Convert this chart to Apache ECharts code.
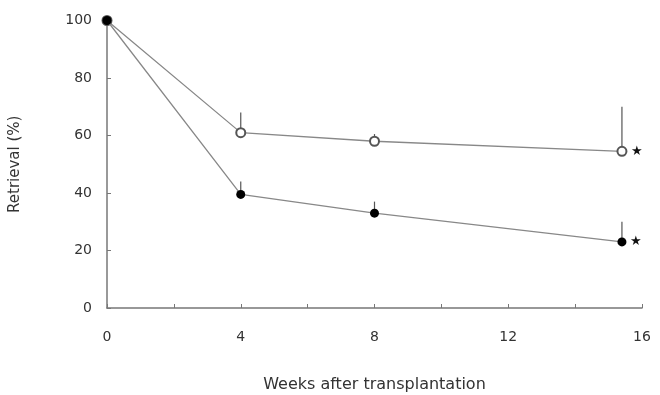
<!DOCTYPE html>
<html><head><meta charset="utf-8">
<script src="https://cdn.jsdelivr.net/npm/echarts@6/dist/echarts.min.js"></script>
<style>html,body{margin:0;padding:0;background:#fff}#c{width:660px;height:395px}</style>
</head><body><div id="c"></div>
<script>
var weeks = [0, 4, 8, 15.4];
var openValues = [100, 61, 58, 54.5];
var openErrors = [0, 7, 2.5, 15.5];
var filledValues = [100, 39.5, 33, 23];
var filledErrors = [0, 4.5, 4, 7];
var xTicks = [0, 4, 8, 12, 16];
var yTicks = [0, 20, 40, 60, 80, 100];

function pairs(vals){ return weeks.map(function(w,i){ return [w, vals[i]]; }); }
function errData(vals, errs){ return weeks.map(function(w,i){ return [w, vals[i], vals[i]+errs[i]]; }).filter(function(d,i){return errs[i]>0;}); }

var font = '"DejaVu Sans", "Liberation Sans", Arial, sans-serif';
var axisColor = '#777';

function errSeries(vals, errs){
  return {
    type: 'custom', silent: true, z: 1,
    data: errData(vals, errs),
    renderItem: function(params, api){
      var p0 = api.coord([api.value(0), api.value(1)]);
      var p1 = api.coord([api.value(0), api.value(2)]);
      return {type:'line', shape:{x1:p0[0], y1:p0[1], x2:p1[0], y2:p1[1]}, style:{stroke:'#555', lineWidth:1.2}};
    }
  };
}

function starLabelData(vals){
  return pairs(vals).map(function(d,i){
    if(i===weeks.length-1){
      return {value:d, label:{show:true, position:'right', distance:4, formatter:'★', color:'#111', fontSize:13}};
    }
    return d;
  });
}

var chart = echarts.init(document.getElementById('c'));
chart.setOption({
  animation: false,
  grid: {left:107, right:18, top:20.5, bottom:87, containLabel:false, outerBoundsMode:'none'},
  xAxis: {
    type:'value', min:0, max:16, interval:2,
    name:'Weeks after transplantation', nameLocation:'middle', nameGap:69,
    nameTextStyle:{fontFamily:font, fontSize:16, color:'#333'},
    axisLine:{lineStyle:{color:axisColor, width:1.5}},
    axisTick:{inside:true, length:4, lineStyle:{color:axisColor}},
    axisLabel:{fontFamily:font, fontSize:14, color:'#333', margin:22,
      formatter:function(v){ return xTicks.indexOf(v)>=0 ? String(v) : ''; }},
    splitLine:{show:false}
  },
  yAxis: {
    type:'value', min:0, max:100, interval:20,
    name:'Retrieval (%)', nameLocation:'middle', nameGap:84, nameRotate:90,
    nameTextStyle:{fontFamily:font, fontSize:15, color:'#333'},
    axisLine:{show:true, lineStyle:{color:axisColor, width:1.5}},
    axisTick:{show:true, inside:true, length:4, lineStyle:{color:axisColor}},
    axisLabel:{fontFamily:font, fontSize:14, color:'#333', margin:15,
      formatter:function(v){ return yTicks.indexOf(v)>=0 ? String(v) : ''; }},
    splitLine:{show:false}
  },
  series: [
    errSeries(openValues, openErrors),
    errSeries(filledValues, filledErrors),
    {
      type:'line', z:3, data: starLabelData(openValues),
      symbol:'emptyCircle', symbolSize:9,
      lineStyle:{color:'#888', width:1.3},
      itemStyle:{color:'#555', borderColor:'#555', borderWidth:1.3}
    },
    {
      type:'line', z:4, data: starLabelData(filledValues),
      symbol:'circle', symbolSize:9,
      lineStyle:{color:'#888', width:1.3},
      itemStyle:{color:'#000'}
    }
  ]
});
</script></body></html>
